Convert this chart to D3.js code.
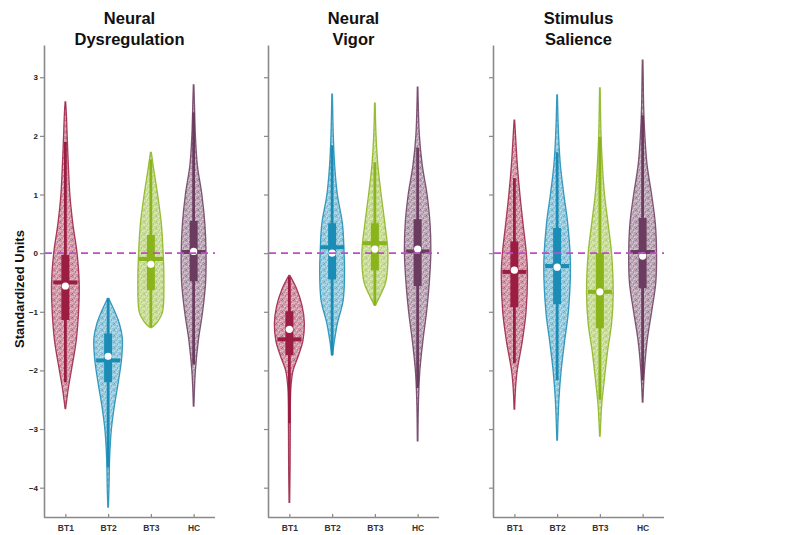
<!DOCTYPE html>
<html><head><meta charset="utf-8">
<script src="https://cdn.jsdelivr.net/npm/d3@7/dist/d3.min.js"></script>
<style>body{margin:0;background:#fff}svg{display:block;font-family:"Liberation Sans",Arial,sans-serif}</style>
</head><body>
<svg id="chart" width="791" height="535"></svg>
<script>
const categories = ["BT1","BT2","BT3","HC"];
const panelTitles = [["Neural","Dysregulation"],["Neural","Vigor"],["Stimulus","Salience"]];
const yTicks = [-4,-3,-2,-1,0,1,2,3];
const colors = ["#9b1e42","#1a8cb6","#8ab41c","#6b3c5f"];

// density profiles: [value, relative half-width]
const densityND = [
  [[2.58,0.02],[2.3,0.08],[2.0,0.12],[1.5,0.2],[1.0,0.3],[0.5,0.5],[0,0.78],[-0.5,0.92],[-1.0,0.88],[-1.5,0.72],[-2.0,0.4],[-2.3,0.2],[-2.65,0.02]],
  [[-0.77,0.03],[-1.0,0.45],[-1.2,0.75],[-1.45,0.95],[-1.8,0.9],[-2.2,0.68],[-2.6,0.42],[-3.0,0.22],[-3.5,0.1],[-4.0,0.06],[-4.33,0.02]],
  [[1.72,0.03],[1.5,0.15],[1.0,0.45],[0.5,0.7],[0,0.82],[-0.46,0.87],[-1.0,0.78],[-1.15,0.5],[-1.24,0.2],[-1.27,0.03]],
  [[2.87,0.02],[2.5,0.06],[2.0,0.12],[1.5,0.25],[1.0,0.55],[0.5,0.75],[0,0.83],[-0.5,0.8],[-1.0,0.6],[-1.5,0.31],[-2.0,0.12],[-2.3,0.06],[-2.61,0.02]]
];
const densityNV = [
  [[-0.38,0.03],[-0.6,0.47],[-0.9,0.85],[-1.2,1.0],[-1.5,0.9],[-1.75,0.6],[-2.0,0.25],[-2.3,0.1],[-3.0,0.06],[-3.6,0.05],[-4.25,0.02]],
  [[2.71,0.02],[2.0,0.08],[1.5,0.17],[1.0,0.35],[0.5,0.69],[0,0.8],[-0.3,0.83],[-0.8,0.74],[-1.2,0.35],[-1.5,0.15],[-1.74,0.02]],
  [[2.56,0.02],[2.0,0.08],[1.5,0.2],[1.0,0.42],[0.5,0.67],[0,0.87],[-0.5,0.72],[-0.75,0.3],[-0.89,0.03]],
  [[2.83,0.02],[2.0,0.12],[1.5,0.31],[1.0,0.63],[0.5,0.83],[0,0.88],[-0.5,0.78],[-1.0,0.6],[-1.5,0.35],[-2.0,0.15],[-2.5,0.06],[-3.2,0.02]]
];
const densitySS = [
  [[2.27,0.02],[2.0,0.08],[1.5,0.2],[1.0,0.37],[0.5,0.58],[0,0.8],[-0.3,0.87],[-1.0,0.78],[-1.5,0.53],[-2.0,0.19],[-2.3,0.08],[-2.66,0.02]],
  [[2.7,0.02],[2.0,0.1],[1.5,0.22],[1.0,0.45],[0.5,0.71],[-0.2,0.89],[-1.0,0.75],[-1.5,0.5],[-2.0,0.27],[-2.5,0.12],[-3.19,0.02]],
  [[2.82,0.02],[2.0,0.08],[1.5,0.17],[1.0,0.31],[0.5,0.55],[0,0.78],[-0.7,0.89],[-1.2,0.78],[-1.7,0.5],[-2.2,0.28],[-2.6,0.12],[-3.12,0.02]],
  [[3.29,0.02],[3.0,0.04],[2.5,0.07],[2.0,0.15],[1.5,0.3],[1.0,0.6],[0.5,0.85],[0,0.93],[-0.5,0.88],[-1.0,0.6],[-1.5,0.3],[-2.0,0.12],[-2.54,0.02]]
];
const densities = [densityND, densityNV, densitySS];

const q3s = [[-0.03,-1.37,0.31,0.55],[-0.99,0.51,0.51,0.58],[0.2,0.43,0.0,0.6]];
const medians = [[-0.5,-1.83,-0.1,0.02],[-1.47,0.1,0.17,0.03],[-0.32,-0.22,-0.66,0.02]];
const means = [[-0.56,-1.76,-0.19,0.03],[-1.3,0.0,0.07,0.07],[-0.29,-0.24,-0.66,-0.05]];
const q1s = [[-1.14,-2.2,-0.63,-0.48],[-1.74,-0.45,-0.29,-0.56],[-0.92,-0.87,-1.28,-0.6]];
const whiskerHi = [[1.9,-0.77,1.6,2.4],[-0.4,1.84,1.55,1.8],[1.28,1.72,1.98,2.35]];
const whiskerLo = [[-2.2,-3.65,-1.26,-1.9],[-2.9,-1.74,-0.89,-2.3],[-1.88,-2.17,-2.5,-2.17]];
const refLine = 0;

const svg = d3.select("#chart");
const panelLeft = [44, 268, 493];
const panelW = 171;
const y = d3.scaleLinear().domain([-4.5, 3.55]).range([517, 45]);
const maxHalf = 15;

// speckle patterns (texture only)
const defs = svg.append("defs");
colors.forEach((c,i)=>{
  const p = defs.append("pattern").attr("id","pat"+i).attr("patternUnits","userSpaceOnUse")
    .attr("width",6).attr("height",6);
  p.append("rect").attr("width",6).attr("height",6).attr("fill",c).attr("fill-opacity",0.38);
  [[1,1],[3.5,2],[2,4],[5,4.8],[5.2,0.6],[0.4,5.4]].forEach(([a,b])=>
    p.append("circle").attr("cx",a).attr("cy",b).attr("r",0.65).attr("fill",c).attr("fill-opacity",0.6));
  [[2.6,0.4],[4.4,3.4],[0.8,2.8]].forEach(([a,b])=>
    p.append("circle").attr("cx",a).attr("cy",b).attr("r",0.5).attr("fill","#fff").attr("fill-opacity",0.45));
});

panelLeft.forEach((px, pi) => {
  const g = svg.append("g");
  const x = d3.scalePoint().domain(categories).range([px, px+panelW]).padding(0.5);

  // title
  const t = g.append("text").attr("x", px+panelW/2).attr("text-anchor","middle")
    .attr("font-size",16.5).attr("font-weight","bold").attr("fill","#111");
  panelTitles[pi].forEach((s,k)=> t.append("tspan").attr("x",px+panelW/2).attr("y",24+k*20.5).text(s));

  // y axis
  const ya = g.append("g").attr("transform",`translate(${px},0)`)
    .call(d3.axisLeft(y).tickValues(yTicks).tickSize(4).tickSizeOuter(0).tickFormat(pi===0? d3.format("d") : ""));
  ya.select(".domain").attr("stroke","#8a8a8a").attr("stroke-width",1.6);
  ya.selectAll(".tick line").attr("stroke","#8a8a8a").attr("stroke-width",1.2);
  ya.selectAll(".tick text").attr("font-size",8).attr("font-weight","bold").attr("fill","#222")
    .attr("font-family","Liberation Sans, Arial, sans-serif").attr("x",-6);

  // x axis
  const xa = g.append("g").attr("transform",`translate(0,517)`)
    .call(d3.axisBottom(x).tickSize(-3).tickSizeOuter(0).tickPadding(8));
  xa.select(".domain").attr("stroke","#8a8a8a").attr("stroke-width",1.6).attr("d",`M${px},0.5H${px+panelW}`);
  xa.selectAll(".tick line").attr("stroke","#8a8a8a").attr("stroke-width",1.2);
  xa.selectAll(".tick text").attr("font-size",8.5).attr("font-weight","bold").attr("fill","#333")
    .attr("font-family","Liberation Sans, Arial, sans-serif");

  // violins
  categories.forEach((cat, ci) => {
    const cx = x(cat);
    const col = colors[ci];
    const prof = densities[pi][ci];
    const area = d3.area().curve(d3.curveCatmullRom.alpha(0.5))
      .y(d=>y(d[0])).x0(d=>cx - maxHalf*d[1]).x1(d=>cx + maxHalf*d[1]);
    g.append("path").attr("d", area(prof)).attr("fill",`url(#pat${ci})`)
      .attr("stroke",col).attr("stroke-width",1.3).attr("stroke-opacity",0.85);
    // whisker
    g.append("line").attr("x1",cx).attr("x2",cx).attr("y1",y(whiskerHi[pi][ci])).attr("y2",y(whiskerLo[pi][ci]))
      .attr("stroke",col).attr("stroke-width",2.8);
    // box
    g.append("rect").attr("x",cx-4).attr("width",8)
      .attr("y",y(q3s[pi][ci])).attr("height",y(q1s[pi][ci])-y(q3s[pi][ci])).attr("fill",col);
    // median
    g.append("line").attr("x1",cx-12).attr("x2",cx+12).attr("y1",y(medians[pi][ci])).attr("y2",y(medians[pi][ci]))
      .attr("stroke",col).attr("stroke-width",4);
    // mean
    g.append("circle").attr("cx",cx).attr("cy",y(means[pi][ci])).attr("r",3.6).attr("fill","#fff");
  });

  // reference line
  g.append("line").attr("x1",px+1).attr("x2",px+panelW).attr("y1",y(refLine)).attr("y2",y(refLine))
    .attr("stroke","#c04ccc").attr("stroke-width",1.8).attr("stroke-dasharray","7,5");
});

// y label
svg.append("text").attr("transform","translate(24,289) rotate(-90)").attr("text-anchor","middle")
  .attr("font-size",13).attr("font-weight","bold").attr("fill","#111").text("Standardized Units");
</script>
</body></html>
